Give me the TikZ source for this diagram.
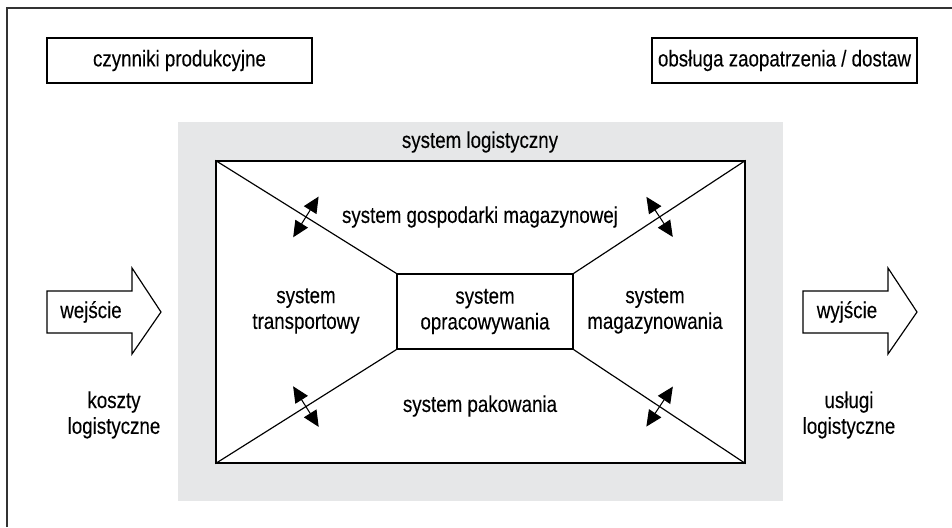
\documentclass[tikz,border=0pt]{standalone}
\usepackage{fontspec}
\setmainfont{Liberation Sans}[FakeStretch=0.82,FakeBold=0.2]
\usetikzlibrary{arrows.meta,calc}
\definecolor{lsgray}{HTML}{E6E7E8}

\begin{document}
\begin{tikzpicture}[x=0.03cm,y=-0.03cm,
    every node/.style={font=\fontsize{19.5}{22}\selectfont,align=center,text=black},
    box/.style={draw,line width=1pt,inner sep=0pt},
    dbl/.style={{Triangle[length=4.8mm,width=4.4mm]}-{Triangle[length=4.8mm,width=4.4mm]},line width=0.9pt}]
  \useasboundingbox (0,0) rectangle (952,527);
  \draw[line width=1.5pt,black!80] (7,527) -- (7,8) -- (952,8);

  \node[box,minimum width=7.95cm,minimum height=1.35cm] (czyn) at (179.5,60.5) {czynniki produkcyjne};
  \node[box,minimum width=7.95cm,minimum height=1.35cm] (obsl) at (784.5,60.5) {obsługa zaopatrzenia / dostaw};

  % system logistyczny
  \node[fill=lsgray,minimum width=18.15cm,minimum height=11.37cm] (logsys) at (480.5,311.5) {};
  \node (logtxt) at (480,142) {system logistyczny};
  \node[box,fill=white,minimum width=15.87cm,minimum height=9.06cm] (inner) at (480.5,312) {};
  \node[box,minimum width=5.28cm,minimum height=2.25cm] (opr) at (485,311.5) {system\\opracowywania};

  \foreach \c in {north west,north east,south west,south east} {
    \draw[line width=1pt] (inner.\c) -- (opr.\c);
    \coordinate (m) at ($(inner.\c)!0.5!(opr.\c)$);
    \draw[dbl] ($(m)!0.72cm!90:(inner.\c)$) -- ($(m)!0.72cm!-90:(inner.\c)$);
  }

  \node (gosp) at (480,217) {system gospodarki magazynowej};
  \node (trans) at (306,311) {system\\transportowy};
  \node (magaz) at (655,311) {system\\magazynowania};
  \node (pakow) at (480,406) {system pakowania};

  % wejscie / wyjscie
  \draw[line width=1pt] (47,291) -- (132,291) -- (132,268) -- (161,312) -- (132,354) -- (132,333) -- (47,333) -- cycle;
  \draw[line width=1pt] (803,291) -- (888,291) -- (888,268) -- (917,312) -- (888,354) -- (888,333) -- (803,333) -- cycle;
  \node (wej) at (91,312) {wejście};
  \node (wyj) at (847,312) {wyjście};

  \node (koszty) at (114,415) {koszty\\logistyczne};
  \node (uslugi) at (849,415) {usługi\\logistyczne};
\end{tikzpicture}
\end{document}
